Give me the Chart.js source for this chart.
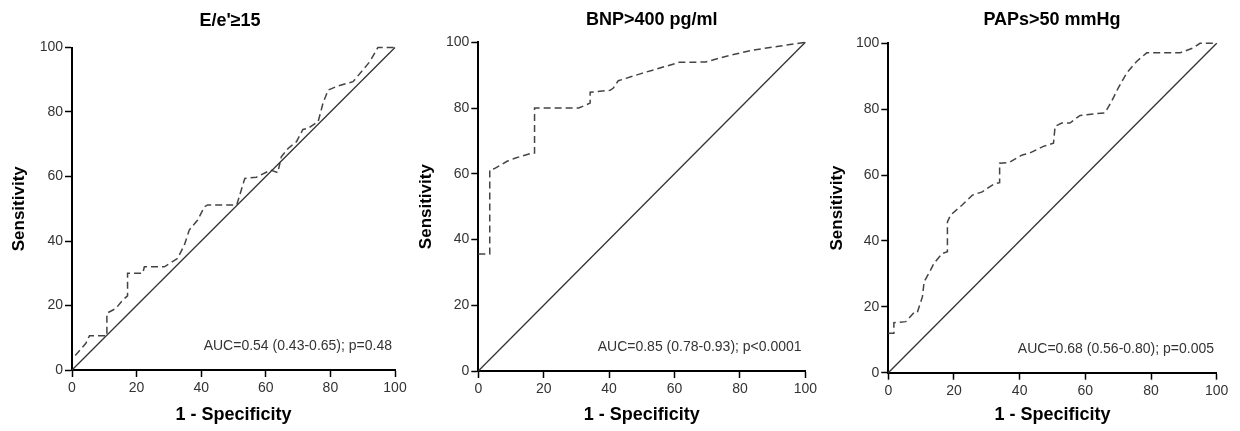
<!DOCTYPE html>
<html><head><meta charset="utf-8">
<script src="https://cdn.jsdelivr.net/npm/chart.js@4.4.0/dist/chart.umd.min.js"></script>
<style>
html,body{margin:0;padding:0;background:#fff;width:1240px;height:431px;overflow:hidden}
.panel{position:absolute;top:0;height:431px}
canvas{display:block}
</style></head><body>
<div class="panel" style="left:0;width:410px"><canvas id="c1" width="410" height="431"></canvas></div>
<div class="panel" style="left:410px;width:410px"><canvas id="c2" width="410" height="431"></canvas></div>
<div class="panel" style="left:820px;width:420px"><canvas id="c3" width="420" height="431"></canvas></div>
<script>
// ---- Data ----
const panelTitles = ["E/e'\u226515", "BNP>400 pg/ml", "PAPs>50 mmHg"];
const aucLabels = ["AUC=0.54 (0.43-0.65); p=0.48", "AUC=0.85 (0.78-0.93); p<0.0001", "AUC=0.68 (0.56-0.80); p=0.005"];
const xAxisTitle = "1 - Specificity";
const yAxisTitle = "Sensitivity";
const tickValues = [0, 20, 40, 60, 80, 100];
const refX = [0, 100];
const refY = [0, 100];

const eeX = [1, 4.3, 5.4, 10.8, 10.8, 13.6, 15.7, 17.2, 17.2, 21.9, 22.4, 28.6, 32.7, 34.8, 36.3, 38.9, 41, 42, 51, 53.5, 57.1, 61.5, 63.7, 64.8, 66.9, 69.5, 71.5, 73, 76.2, 77.7, 79.3, 82.4, 87, 89.6, 92.2, 94.7, 100];
const eeY = [4.5, 8.3, 10.6, 10.6, 17.6, 19.1, 21.7, 23, 30, 30, 32, 32, 34.6, 38.8, 43.4, 46.5, 50.6, 51.2, 51.2, 59.4, 59.8, 62, 61.2, 66.1, 68.7, 70.8, 74.6, 74.9, 77, 82.7, 86.8, 88.1, 89.4, 92.5, 95.6, 100, 100];

const bnpX = [0, 3.5, 3.5, 4.8, 8.8, 11.4, 16.4, 17.2, 17.2, 30.7, 34.2, 34.2, 40.3, 41.3, 42.8, 49.5, 61.4, 69.5, 75.6, 83.7, 91.9, 100];
const bnpY = [35.6, 35.6, 61.2, 61.5, 63.8, 64.8, 66.3, 66.3, 80, 80, 81.5, 84.8, 85.4, 86.1, 88.3, 90.4, 93.9, 94, 95.7, 97.6, 98.8, 100];

const papX = [0, 1.7, 1.7, 5.3, 7.8, 8.8, 10.4, 10.9, 12.9, 13.9, 16.4, 18, 18, 19, 22.5, 25.6, 28.6, 32.2, 33.9, 33.9, 36.8, 40.8, 43.1, 47.2, 50.3, 50.8, 52.8, 55.3, 58.4, 66, 68, 70, 72.6, 75.6, 78.7, 88.8, 92.9, 94.9, 100];
const papY = [12, 12, 15.2, 15.5, 18.2, 18.2, 23.1, 27.6, 31.2, 33.2, 36.2, 36.7, 45.8, 47.9, 50.9, 53.9, 54.9, 57.3, 57.7, 63.6, 63.8, 66.1, 66.7, 68.7, 69.7, 74.8, 75.8, 75.8, 78.1, 78.9, 82.4, 86.4, 91, 94.5, 97.1, 97.1, 98.6, 100, 100];

// ---- Layout ----
const FONT = '"Liberation Sans", Arial, Helvetica, sans-serif';
const panels = [
  {id:'c1', xs:eeX, ys:eeY, yAxisW:72, padRight:15, top:47.5, xAxisH:61, titleX:230, titleY:26, yTitlePad:9.5, aucDx:-3, aucDy:-20},
  {id:'c2', xs:bnpX, ys:bnpY, yAxisW:68.3, padRight:13.3, top:42.3, xAxisH:60, titleX:241.7, titleY:25.3, yTitlePad:6.5, aucDx:-3.7, aucDy:-20.3},
  {id:'c3', xs:papX, ys:papY, yAxisW:68.3, padRight:23.3, top:43.3, xAxisH:58.3, titleX:232, titleY:25, yTitlePad:7.5, aucDx:-2.7, aucDy:-20}
];

const textPlugin = {
  id: 'panelText',
  afterDraw(chart, args, o) {
    const {ctx, chartArea} = chart;
    ctx.save();
    ctx.fillStyle = '#000';
    ctx.font = 'bold 18px ' + FONT;
    ctx.textAlign = 'center';
    ctx.textBaseline = 'alphabetic';
    ctx.fillText(o.title, o.titleX, o.titleY);
    ctx.font = '14px ' + FONT;
    ctx.fillStyle = '#333';
    ctx.textAlign = 'right';
    ctx.fillText(o.auc, chartArea.right + o.aucDx, chartArea.bottom + o.aucDy);
    ctx.restore();
  }
};

function toPoints(xs, ys) { return xs.map((x, i) => ({x: x, y: ys[i]})); }

panels.forEach((p, idx) => {
  const axisCommon = {
    type: 'linear', min: 0, max: 100,
    afterBuildTicks: s => { s.ticks = tickValues.map(v => ({value: v})); },
    grid: {display: true, drawOnChartArea: false, drawTicks: true, tickLength: 7, tickColor: '#000', tickWidth: 1.5},
    border: {display: true, color: '#000', width: 2}
  };
  new Chart(document.getElementById(p.id), {
    type: 'line',
    data: {
      datasets: [
        {data: toPoints(refX, refY), borderColor: '#333', borderWidth: 1.3, pointRadius: 0, tension: 0, clip: false},
        {data: toPoints(p.xs, p.ys), borderColor: '#444', borderWidth: 1.5, borderDash: [7, 4], pointRadius: 0, tension: 0, clip: false}
      ]
    },
    options: {
      responsive: false, animation: false, events: [],
      layout: {padding: {left: 0, right: p.padRight, top: p.top, bottom: 0}},
      plugins: {
        legend: {display: false}, tooltip: {enabled: false},
        panelText: {title: panelTitles[idx], auc: aucLabels[idx], titleX: p.titleX, titleY: p.titleY, aucDx: p.aucDx, aucDy: p.aucDy}
      },
      scales: {
        x: Object.assign({}, axisCommon, {
          position: 'bottom',
          afterFit: s => { s.height = p.xAxisH; },
          ticks: {color: '#333', font: {family: FONT, size: 14}, padding: 3, maxRotation: 0, autoSkip: false},
          title: {display: true, text: xAxisTitle, color: '#000', font: {family: FONT, size: 18, weight: 'bold'}, padding: {top: 0, bottom: 5}}
        }),
        y: Object.assign({}, axisCommon, {
          position: 'left',
          afterFit: s => { s.width = p.yAxisW; },
          ticks: {color: '#333', font: {family: FONT, size: 14}, padding: 2, autoSkip: false},
          title: {display: true, text: yAxisTitle, color: '#000', font: {family: FONT, size: 17, weight: 'bold'}, padding: {top: p.yTitlePad, bottom: 0}}
        })
      }
    },
    plugins: [textPlugin]
  });
});
</script>
</body></html>
